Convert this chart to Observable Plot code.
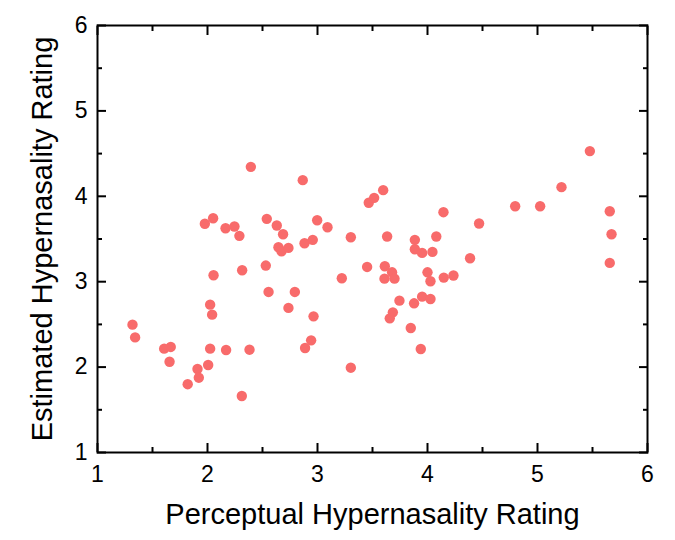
<!DOCTYPE html>
<html><head><meta charset="utf-8">
<script src="https://cdn.jsdelivr.net/npm/d3@7"></script>
<script src="https://cdn.jsdelivr.net/npm/@observablehq/plot@0.6"></script>
<style>body{margin:0;background:#fff}</style>
</head><body><div id="chart"></div>
<script>
const perceptual = [1.318,1.342,1.606,1.666,1.655,1.82,1.909,1.921,2.006,2.024,2.024,2.042,2.055,1.976,2.051,2.169,2.164,2.245,2.29,2.315,2.312,2.382,2.394,2.539,2.53,2.555,2.63,2.687,2.645,2.673,2.736,2.736,2.794,2.866,2.882,2.887,2.957,2.942,2.964,2.997,3.091,3.221,3.303,3.303,3.451,3.466,3.515,3.597,3.633,3.612,3.609,3.678,3.7,3.745,3.685,3.657,3.848,3.878,3.885,3.885,3.951,3.939,3.951,4.0,4.027,4.027,4.045,4.08,4.145,4.148,4.236,4.387,4.469,4.797,5.024,5.218,5.476,5.657,5.673,5.657];
const estimated = [2.497,2.348,2.216,2.236,2.063,1.80,1.978,1.876,2.024,2.216,2.731,2.614,3.075,3.678,3.743,2.20,3.626,3.646,3.537,3.134,1.661,2.204,4.345,3.736,3.189,2.88,3.658,3.556,3.403,3.356,3.396,2.693,2.88,4.189,3.45,2.224,3.49,2.313,2.594,3.72,3.638,3.04,3.521,1.993,3.173,3.924,3.982,4.072,3.529,3.181,3.036,3.11,3.036,2.778,2.641,2.571,2.458,2.747,3.49,3.38,3.337,2.212,2.825,3.11,3.005,2.798,3.349,3.529,3.814,3.048,3.072,3.275,3.681,3.884,3.884,4.107,4.529,3.825,3.556,3.22];
const majorTicks = [1,2,3,4,5,6];
const minorTicks = [1.5,2.5,3.5,4.5,5.5];
const xTitle = "Perceptual Hypernasality Rating";
const yTitle = "Estimated Hypernasality Rating";

const data = perceptual.map((x, i) => ({x, y: estimated[i]}));
const tickOpts = {stroke: "#000", strokeWidth: 2, fill: "none"};
const chart = Plot.plot({
  width: 675, height: 540,
  marginLeft: 97, marginRight: 28, marginTop: 25, marginBottom: 88,
  x: {domain: [1, 6]},
  y: {domain: [1, 6]},
  style: {fontFamily: "'Liberation Sans', Arial, sans-serif", background: "#fff", color: "#000", overflow: "visible"},
  marks: [
    Plot.dot(data, {x: "x", y: "y", r: 5.2, fill: "#f86b6b", stroke: null}),
    Plot.frame({stroke: "#000", strokeWidth: 2}),
    Plot.axisX(majorTicks, {anchor: "bottom", tickSize: -9, ...tickOpts}),
    Plot.axisX(minorTicks, {anchor: "bottom", tickSize: -5, ...tickOpts}),
    Plot.axisX(majorTicks, {anchor: "top", tickSize: -9, ...tickOpts}),
    Plot.axisX(minorTicks, {anchor: "top", tickSize: -5, ...tickOpts}),
    Plot.axisY(majorTicks, {anchor: "left", tickSize: -9, ...tickOpts}),
    Plot.axisY(minorTicks, {anchor: "left", tickSize: -5, ...tickOpts}),
    Plot.axisY(majorTicks, {anchor: "right", tickSize: -9, ...tickOpts}),
    Plot.axisY(minorTicks, {anchor: "right", tickSize: -5, ...tickOpts}),
    Plot.axisX(majorTicks, {anchor: "bottom", tickSize: 0, tickPadding: 13, fontSize: 23, fill: "#000", label: null, tickFormat: d => String(d)}),
    Plot.axisY(majorTicks, {anchor: "left", tickSize: 0, tickPadding: 10, fontSize: 23, fill: "#000", label: null, tickFormat: d => String(d)}),
    Plot.text([xTitle], {text: d => d, frameAnchor: "bottom", dy: 62.5, fontSize: 29, textAnchor: "middle", lineAnchor: "middle", fill: "#000"}),
    Plot.text([yTitle], {text: d => d, frameAnchor: "left", dx: -54.5, rotate: -90, fontSize: 29, textAnchor: "middle", lineAnchor: "middle", fill: "#000"})
  ]
});
document.getElementById("chart").appendChild(chart);
</script>
</body></html>
